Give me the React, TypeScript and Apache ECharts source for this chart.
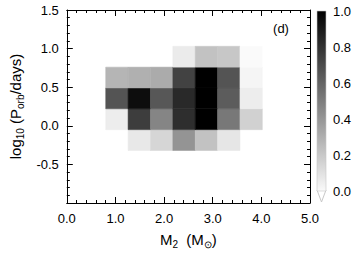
import React, { useEffect, useRef } from "react";
import * as echarts from "echarts";

// Bin edges of the 2-D histogram
const xEdges = [0.8, 1.26, 1.72, 2.18, 2.64, 3.1, 3.56, 4.02];
const yEdges = [-0.32, -0.05, 0.22, 0.49, 0.76, 1.03];
// Normalised density per row (bottom row first); null = empty bin
const row0 = [null, 0.09, 0.16, 0.42, 0.24, 0.1, null];
const row1 = [0.07, 0.76, 0.48, 0.82, 1.0, 0.53, 0.18];
const row2 = [0.67, 0.95, 0.66, 0.84, 1.0, 0.64, 0.07];
const row3 = [0.29, 0.31, 0.33, 0.74, 1.0, 0.67, 0.04];
const row4 = [null, null, null, 0.08, 0.24, 0.22, 0.02];
const rows = [row0, row1, row2, row3, row4];

const xTicks = [0, 1, 2, 3, 4, 5];
const yTickLabels = ["-0.5", "0.0", "0.5", "1.0", "1.5"];
const cbTicks = ["0.0", "0.2", "0.4", "0.6", "0.8", "1.0"];

const FONT = "Liberation Sans";

export default function App() {
  const ref = useRef<HTMLDivElement>(null);
  useEffect(() => {
    if (!ref.current) return;
    const chart = echarts.init(ref.current, null, { renderer: "svg" });
    const cells: number[][] = [];
    rows.forEach((r, j) => {
      r.forEach((v, i) => {
        if (v !== null) cells.push([xEdges[i], xEdges[i + 1], yEdges[j], yEdges[j + 1], v as number]);
      });
    });
    const axisLine = { show: true, onZero: false, lineStyle: { color: "#000", width: 1 } };
    const tickStyle = { color: "#000", width: 1 };
    const labelStyle = { color: "#000", fontFamily: FONT, fontSize: 13 };
    const rich = {
      a: { fontFamily: FONT, fontSize: 15, color: "#000", lineHeight: 20, verticalAlign: "middle" },
      s: { fontFamily: FONT, fontSize: 10, color: "#000", verticalAlign: "bottom", lineHeight: 12 },
    };
    chart.setOption({
      animation: false,
      backgroundColor: "#fff",
      grid: [
        { left: 66, top: 10, width: 244, height: 193 },
        { left: 317, top: 11, width: 9, height: 180 },
      ],
      xAxis: [
        {
          type: "value", gridIndex: 0, min: 0, max: 5, interval: 1,
          axisLine, splitLine: { show: false },
          axisTick: { show: true, inside: true, length: 6, lineStyle: tickStyle },
          minorTick: { show: true, splitNumber: 5, length: 3, lineStyle: tickStyle },
          axisLabel: { ...labelStyle, margin: 9, formatter: (v: number) => (xTicks.includes(v) ? v.toFixed(1) : "") },
          name: "{a|M}{s|2}{a|  (M}{s|⊙}{a|)}",
          nameLocation: "middle", nameGap: 26,
          nameTextStyle: { rich },
        },
        {
          type: "value", gridIndex: 0, min: 0, max: 5, interval: 1, position: "top",
          axisLine, splitLine: { show: false }, axisLabel: { show: false },
          axisTick: { show: true, inside: true, length: 6, lineStyle: tickStyle },
          minorTick: { show: true, splitNumber: 5, length: 3, lineStyle: tickStyle },
        },
        { type: "value", gridIndex: 1, min: 0, max: 1, show: false },
      ],
      yAxis: [
        {
          type: "value", gridIndex: 0, min: -1, max: 1.5, interval: 0.5,
          axisLine, splitLine: { show: false },
          axisTick: { show: true, inside: true, length: 6, lineStyle: tickStyle },
          minorTick: { show: true, splitNumber: 5, length: 3, lineStyle: tickStyle },
          axisLabel: {
            ...labelStyle, margin: 8,
            formatter: (v: number) => { const s = v.toFixed(1); return yTickLabels.includes(s) ? s : ""; },
          },
          name: "{a|log}{s|10}{a| (P}{s|orb}{a|/days)}",
          nameLocation: "middle", nameGap: 36, nameRotate: 90,
          nameTextStyle: { rich },
        },
        {
          type: "value", gridIndex: 0, min: -1, max: 1.5, interval: 0.5, position: "right",
          axisLine, splitLine: { show: false }, axisLabel: { show: false },
          axisTick: { show: true, inside: true, length: 6, lineStyle: tickStyle },
          minorTick: { show: true, splitNumber: 5, length: 3, lineStyle: tickStyle },
        },
        {
          type: "value", gridIndex: 1, min: 0, max: 1, interval: 0.2, position: "right",
          axisLine: { show: false }, axisTick: { show: false }, splitLine: { show: false },
          axisLabel: {
            ...labelStyle, margin: 7,
            formatter: (v: number) => { const s = v.toFixed(1); return cbTicks.includes(s) ? s : ""; },
          },
        },
      ],
      series: [
        {
          type: "custom",
          xAxisIndex: 0, yAxisIndex: 0,
          encode: { x: [0, 1], y: [2, 3] },
          data: cells,
          renderItem: (params: any, api: any) => {
            const p0 = api.coord([api.value(0), api.value(3)]);
            const p1 = api.coord([api.value(1), api.value(2)]);
            const g = Math.round(255 * (1 - api.value(4)));
            const c = `rgb(${g},${g},${g})`;
            return {
              type: "rect",
              shape: { x: p0[0], y: p0[1], width: p1[0] - p0[0], height: p1[1] - p0[1] },
              style: { fill: c, stroke: c, lineWidth: 0.5 },
            };
          },
        },
        {
          type: "custom",
          xAxisIndex: 2, yAxisIndex: 2,
          encode: { x: 0, y: 1 },
          data: [[0, 1]],
          renderItem: (params: any, api: any) => {
            const top = api.coord([0, 1]);
            const bot = api.coord([1, 0]);
            const w = bot[0] - top[0];
            return {
              type: "group",
              children: [
                {
                  type: "polygon",
                  shape: {
                    points: [
                      [top[0], bot[1] - 1], [bot[0], bot[1] - 1], [top[0] + w / 2, bot[1] + 11],
                    ],
                  },
                  style: { fill: "#fff", stroke: "#c8c8c8", lineWidth: 1 },
                },
                {
                  type: "rect",
                  shape: { x: top[0], y: top[1], width: w, height: bot[1] - top[1] },
                  style: {
                    fill: new echarts.graphic.LinearGradient(0, 0, 0, 1, [
                      { offset: 0, color: "#000" },
                      { offset: 1, color: "#fafafa" },
                    ]),
                    stroke: "#c8c8c8", lineWidth: 0.6,
                  },
                },
              ],
            };
          },
        },
      ],
      graphic: [
        {
          type: "text", x: 281, y: 28,
          style: { text: "(d)", fontFamily: FONT, fontSize: 13, fill: "#000", align: "center", verticalAlign: "middle" },
        },
      ],
    });
    return () => chart.dispose();
  }, []);
  return <div ref={ref} style={{ position: "fixed", left: 0, top: 0, width: 357, height: 255 }} />;
}
